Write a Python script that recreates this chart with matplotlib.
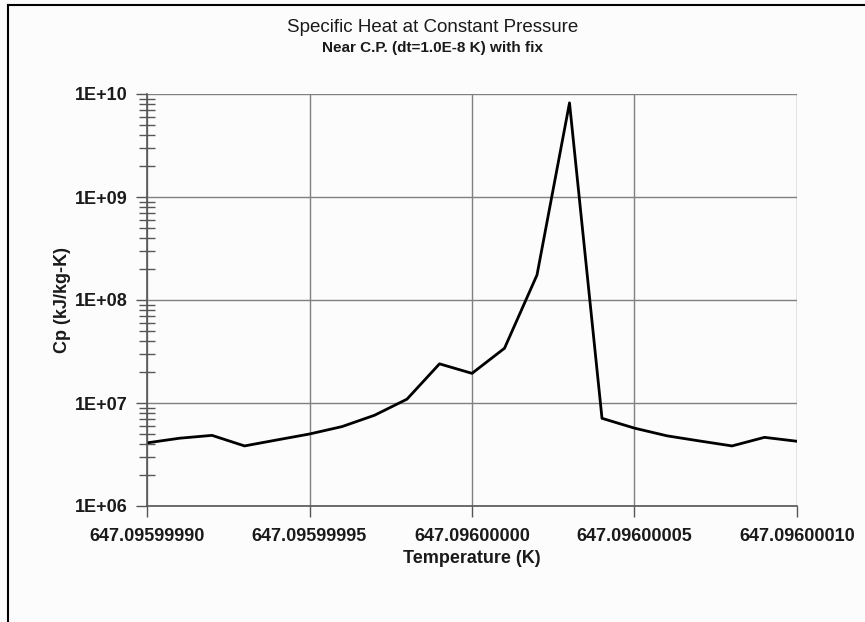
import matplotlib
matplotlib.use("Agg")
from matplotlib import pyplot as plt
from matplotlib.lines import Line2D
from matplotlib.ticker import FixedLocator, LogLocator, NullFormatter
import numpy as np

# temperature offsets from 647.096 K, in units of 1e-8 K
t_steps = list(range(-10, 11))
cp = [4.1e6, 4.55e6, 4.85e6, 3.83e6, 4.38e6, 5.0e6, 5.9e6, 7.6e6, 1.09e7, 2.4e7,
      1.94e7, 3.4e7, 1.75e8, 8.2e9, 7.1e6, 5.7e6, 4.8e6, 4.28e6, 3.83e6, 4.64e6, 4.25e6]
x_ticks = [-10, -5, 0, 5, 10]
x_ticklabels = ["647.09599990", "647.09599995", "647.09600000", "647.09600005", "647.09600010"]
y_ticks = [1e6, 1e7, 1e8, 1e9, 1e10]
y_ticklabels = ["1E+06", "1E+07", "1E+08", "1E+09", "1E+10"]

plt.rcParams['font.family'] = ['Liberation Sans', 'DejaVu Sans']
txt = "#1a1a1a"

fig = plt.figure(figsize=(8.65, 6.22), dpi=100)
fig.patch.set_facecolor("#fcfcfc")
ax = fig.add_axes([147/865, 1 - 506/622, 650/865, 412/622])
ax.set_facecolor("#fcfcfc")

ax.plot(t_steps, cp, color="black", lw=2)

ax.set_yscale("log")
ax.set_xlim(-10, 10)
ax.set_ylim(1e6, 1e10)

ax.xaxis.set_major_locator(FixedLocator(x_ticks))
ax.set_xticklabels(x_ticklabels, fontsize=13, fontweight="bold", color=txt)
ax.yaxis.set_major_locator(FixedLocator(y_ticks))
ax.set_yticklabels(y_ticklabels, fontsize=13, fontweight="bold", color=txt)
ax.yaxis.set_minor_locator(LogLocator(base=10, subs=np.arange(2, 10)))
ax.yaxis.set_minor_formatter(NullFormatter())

ax.grid(True, which="major", color="#808080", lw=1)
ax.tick_params(axis="x", which="major", direction="out", length=8, width=1, color="#555555", pad=7.5)
ax.tick_params(axis="y", which="major", direction="out", length=8, width=1, color="#555555", pad=6)
ax.tick_params(axis="y", which="minor", direction="inout", length=12, width=1, color="#555555")

for s in ["top", "right"]:
    ax.spines[s].set_visible(False)
for s in ["left", "bottom"]:
    ax.spines[s].set_color("#555555")
    ax.spines[s].set_linewidth(1.2)

ax.set_xlabel("Temperature (K)", fontsize=13, fontweight="bold", color=txt, labelpad=4)
ax.set_ylabel("Cp (kJ/kg-K)", fontsize=13, fontweight="bold", color=txt, labelpad=3)

fig.text(0.5, 1 - 28/622, "Specific Heat at Constant Pressure", ha="center", va="center",
         fontsize=13.5, color=txt)
fig.text(0.5, 1 - 48/622, "Near C.P. (dt=1.0E-8 K) with fix", ha="center", va="center",
         fontsize=11, fontweight="bold", color=txt)

# outer chart frame (left and top edges visible)
fig.add_artist(Line2D([8/865, 8/865], [0, 1 - 5/622], color="black", lw=1.5))
fig.add_artist(Line2D([8/865, 1], [1 - 5/622, 1 - 5/622], color="black", lw=1.5))

fig.savefig("out.png", dpi=100, facecolor=fig.get_facecolor())
